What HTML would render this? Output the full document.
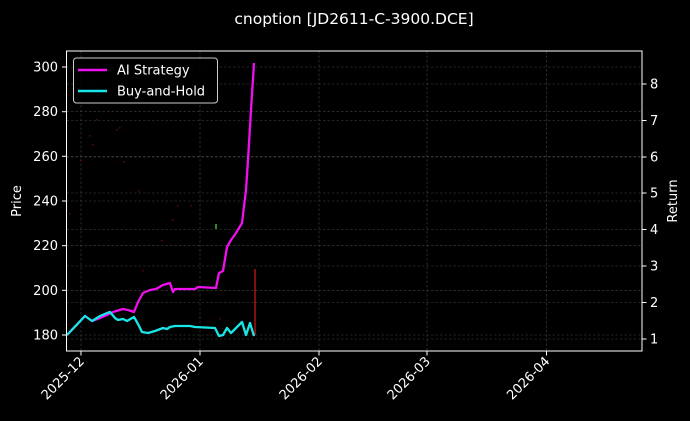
<!DOCTYPE html>
<html><head><meta charset="utf-8"><style>
html,body{margin:0;padding:0;background:#000;}
svg{display:block;font-family:"DejaVu Sans","Liberation Sans",sans-serif;}
</style></head><body>
<svg width="690" height="421" viewBox="0 0 690 421" xmlns="http://www.w3.org/2000/svg">
<rect width="690" height="421" fill="#000"/>
<g stroke="#444" stroke-width="0.6" stroke-dasharray="2.5,2">
<line x1="66.5" x2="642" y1="335" y2="335"/>
<line x1="66.5" x2="642" y1="290.3" y2="290.3"/>
<line x1="66.5" x2="642" y1="245.7" y2="245.7"/>
<line x1="66.5" x2="642" y1="201" y2="201"/>
<line x1="66.5" x2="642" y1="156.3" y2="156.3"/>
<line x1="66.5" x2="642" y1="111.7" y2="111.7"/>
<line x1="66.5" x2="642" y1="67" y2="67"/>
<line x1="66.5" x2="642" y1="339" y2="339"/>
<line x1="66.5" x2="642" y1="302.5" y2="302.5"/>
<line x1="66.5" x2="642" y1="266" y2="266"/>
<line x1="66.5" x2="642" y1="229.5" y2="229.5"/>
<line x1="66.5" x2="642" y1="193" y2="193"/>
<line x1="66.5" x2="642" y1="157" y2="157"/>
<line x1="66.5" x2="642" y1="120.5" y2="120.5"/>
<line x1="66.5" x2="642" y1="84" y2="84"/>
<line x1="81" x2="81" y1="51" y2="351"/>
<line x1="200" x2="200" y1="51" y2="351"/>
<line x1="319" x2="319" y1="51" y2="351"/>
<line x1="427" x2="427" y1="51" y2="351"/>
<line x1="546.5" x2="546.5" y1="51" y2="351"/>
</g>
<g fill="#5a0d0d">
<rect x="69" y="213" width="1.5" height="1.5"/><rect x="80" y="160" width="1.5" height="1.5"/>
<rect x="89" y="135" width="1.5" height="1.5"/><rect x="92" y="144" width="1.5" height="1.5"/>
<rect x="96" y="119" width="1.5" height="1.5"/><rect x="116" y="129" width="1.5" height="1.5"/>
<rect x="119" y="127" width="1.5" height="1.5"/><rect x="123" y="161" width="1.5" height="1.5"/>
<rect x="138" y="190" width="1.5" height="1.5"/><rect x="142" y="270" width="1.5" height="1.5"/>
<rect x="161" y="240" width="1.5" height="1.5"/><rect x="172" y="219" width="1.5" height="1.5"/>
<rect x="177" y="205" width="1.5" height="1.5"/><rect x="190" y="205" width="1.5" height="1.5"/>
<rect x="219" y="318" width="1.5" height="1.5"/><rect x="246" y="174" width="1.5" height="1.5"/>
</g>
<rect x="215" y="224" width="2" height="5" fill="#2a8a2a"/>
<line x1="255" y1="269" x2="255" y2="335" stroke="#ff2020" stroke-width="1"/>
<polyline fill="none" stroke="#ee10ee" stroke-width="2.3" stroke-linejoin="round" points="67,335 85,316 92,321 100,318 107,315 113,312 123,309 128,310 134,312 138,302 143,293 150,290 156,289 163,285 170,283 173,292 175,289 185,289 195,289 198,287 216,288 219,273 223,271 227,247 231,240 236,233 242,223 246,190 248,160 251,110 254,63"/>
<polyline fill="none" stroke="#19e6e6" stroke-width="2.3" stroke-linejoin="round" points="67,335 85,316 92,321 100,316 107,313 110,312 115,318 118,320 123,319 127,321 134,317 138,324 142,332 148,333 155,331 163,328 167,329 170,327 175,326 190,326 195,327 215,328 219,336 223,335 227,328 231,333 236,328 242,322 246,335 250,323 254,336"/>
<rect x="66.5" y="51" width="575.5" height="300" fill="none" stroke="#fff" stroke-width="1"/>
<g stroke="#fff" stroke-width="1">
<line x1="62" x2="66.5" y1="335" y2="335"/><line x1="62" x2="66.5" y1="290.3" y2="290.3"/>
<line x1="62" x2="66.5" y1="245.7" y2="245.7"/><line x1="62" x2="66.5" y1="201" y2="201"/>
<line x1="62" x2="66.5" y1="156.3" y2="156.3"/><line x1="62" x2="66.5" y1="111.7" y2="111.7"/>
<line x1="62" x2="66.5" y1="67" y2="67"/>
<line x1="642" x2="646.5" y1="339" y2="339"/><line x1="642" x2="646.5" y1="302.5" y2="302.5"/>
<line x1="642" x2="646.5" y1="266" y2="266"/><line x1="642" x2="646.5" y1="229.5" y2="229.5"/>
<line x1="642" x2="646.5" y1="193" y2="193"/><line x1="642" x2="646.5" y1="157" y2="157"/>
<line x1="642" x2="646.5" y1="120.5" y2="120.5"/><line x1="642" x2="646.5" y1="84" y2="84"/>
<line x1="81" x2="81" y1="351" y2="355.5"/><line x1="200" x2="200" y1="351" y2="355.5"/>
<line x1="319" x2="319" y1="351" y2="355.5"/><line x1="427" x2="427" y1="351" y2="355.5"/>
<line x1="546.5" x2="546.5" y1="351" y2="355.5"/>
</g>
<g fill="#fff" font-size="13" text-anchor="end">
<text x="58" y="339.5">180</text><text x="58" y="294.8">200</text><text x="58" y="250.2">220</text>
<text x="58" y="205.5">240</text><text x="58" y="160.8">260</text><text x="58" y="116.2">280</text>
<text x="58" y="71.5">300</text>
</g>
<g fill="#fff" font-size="13">
<text x="650" y="343.5">1</text><text x="650" y="307">2</text><text x="650" y="270.5">3</text>
<text x="650" y="234">4</text><text x="650" y="197.5">5</text><text x="650" y="161.5">6</text>
<text x="650" y="125">7</text><text x="650" y="88.5">8</text>
</g>
<g fill="#fff" font-size="13" text-anchor="end">
<text transform="translate(85,362) rotate(-45)">2025-12</text>
<text transform="translate(204,362) rotate(-45)">2026-01</text>
<text transform="translate(323,362) rotate(-45)">2026-02</text>
<text transform="translate(431,362) rotate(-45)">2026-03</text>
<text transform="translate(550.5,362) rotate(-45)">2026-04</text>
</g>
<text transform="translate(21,201) rotate(-90)" fill="#fff" font-size="13" text-anchor="middle">Price</text>
<text transform="translate(677,201) rotate(-90)" fill="#fff" font-size="13" text-anchor="middle">Return</text>
<text x="354" y="24" fill="#fff" font-size="15.5" text-anchor="middle">cnoption [JD2611-C-3900.DCE]</text>
<rect x="73.5" y="58" width="144" height="45" rx="3" fill="#000" fill-opacity="0.85" stroke="#ccc" stroke-width="1"/>
<line x1="78" x2="107" y1="70" y2="70" stroke="#ee10ee" stroke-width="2.5"/>
<line x1="78" x2="107" y1="91" y2="91" stroke="#19e6e6" stroke-width="2.5"/>
<text x="117" y="74.5" fill="#fff" font-size="13">AI Strategy</text>
<text x="117" y="95.5" fill="#fff" font-size="13">Buy-and-Hold</text>
</svg>
</body></html>
